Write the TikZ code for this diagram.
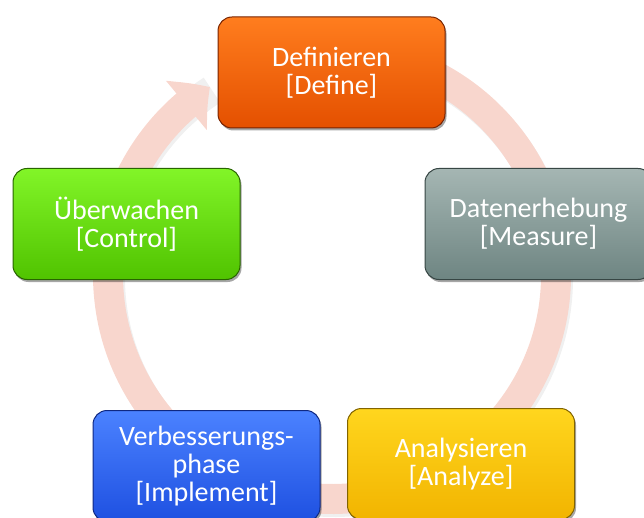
\documentclass[tikz,border=0pt]{standalone}
\usepackage{fontspec}
\setmainfont{Carlito}
\usetikzlibrary{arrows.meta,shadows,bending}
\definecolor{ringpink}{RGB}{248,214,205}
\definecolor{defT}{RGB}{255,125,30}\definecolor{defB}{RGB}{228,80,0}\definecolor{defD}{RGB}{120,35,0}
\definecolor{meaT}{RGB}{165,182,179}\definecolor{meaB}{RGB}{110,133,130}\definecolor{meaD}{RGB}{55,70,68}
\definecolor{conT}{RGB}{130,245,40}\definecolor{conB}{RGB}{80,195,0}\definecolor{conD}{RGB}{40,100,0}
\definecolor{impT}{RGB}{75,130,255}\definecolor{impB}{RGB}{30,80,225}\definecolor{impD}{RGB}{15,40,130}
\definecolor{anaT}{RGB}{255,214,30}\definecolor{anaB}{RGB}{242,180,0}\definecolor{anaD}{RGB}{130,100,0}
\tikzset{
  phasebox/.style={rectangle, rounded corners=14pt, minimum width=227pt, minimum height=111pt,
    align=center, text=white, font=\fontsize{28}{28}\selectfont, line width=1pt,
    drop shadow={shadow xshift=1.5pt, shadow yshift=-2.5pt, opacity=.35, fill=black}},
  ringline/.style={line width=30pt, draw=ringpink,
    -{Triangle[width=62pt,length=30pt,bend]}},
}
\begin{document}
\begin{tikzpicture}[x=1pt,y=-1pt]
\useasboundingbox (0,0) rectangle (644,518);
\coordinate (ctr) at (332,275);
% faint ring shadow
\draw[line width=30pt, draw=gray, opacity=.12] ([shift={(2,3)}]ctr) ++(-95:224) arc[start angle=-95, end angle=237, radius=224];
% ring with arrow
\draw[ringline] (ctr) ++(-95:224) arc[start angle=-95, end angle=237, radius=224];
% boxes
\node[phasebox, top color=defT, bottom color=defB, draw=defD] (def) at (331.5,72.5) {Definieren\\\relax[Define]};
\node[phasebox, top color=meaT, bottom color=meaB, draw=meaD] (mea) at (538.5,224) {Datenerhebung\\\relax[Measure]};
\node[phasebox, top color=anaT, bottom color=anaB, draw=anaD] (ana) at (461,464) {Analysieren\\\relax[Analyze]};
\node[phasebox, top color=impT, bottom color=impB, draw=impD] (imp) at (206.5,466) {Verbesserungs-\\phase\\\relax[Implement]};
\node[phasebox, top color=conT, bottom color=conB, draw=conD] (con) at (126.5,224) {Überwachen\\\relax[Control]};
\end{tikzpicture}
\end{document}
